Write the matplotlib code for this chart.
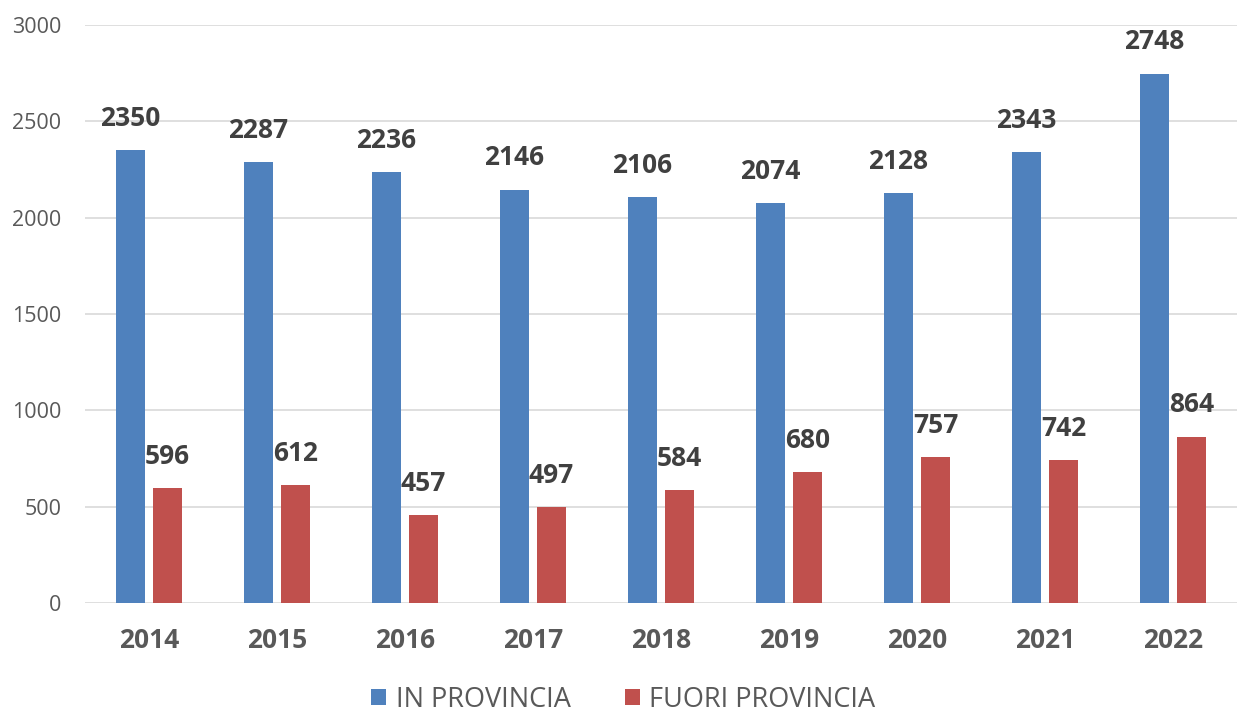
import numpy as np
import matplotlib.pyplot as plt

# dati
anni = ["2014", "2015", "2016", "2017", "2018", "2019", "2020", "2021", "2022"]
in_provincia = [2350, 2287, 2236, 2146, 2106, 2074, 2128, 2343, 2748]
fuori_provincia = [596, 612, 457, 497, 584, 680, 757, 742, 864]

plt.rcParams['font.family'] = ['Open Sans', 'DejaVu Sans']

fig = plt.figure(figsize=(12.39, 7.18), dpi=100)
ax = fig.add_axes([85 / 1239, 1 - 603 / 718, 1152 / 1239, 578 / 718])

x = np.arange(len(anni))
w = 0.22
b1 = ax.bar(x - 0.145, in_provincia, w, color="#4F81BD", label="IN PROVINCIA", zorder=3)
b2 = ax.bar(x + 0.145, fuori_provincia, w, color="#C0504D", label="FUORI PROVINCIA", zorder=3)

for bars in (b1, b2):
    ax.bar_label(bars, padding=13, fontsize=19, fontweight="bold", color="#404040")

ax.set_xlim(-0.5, len(anni) - 0.5)
ax.set_ylim(0, 3000)
ax.set_yticks(range(0, 3001, 500))
ax.set_xticks(x)
ax.set_xticklabels(anni, fontsize=19, fontweight="bold", color="#595959")
ax.tick_params(axis="y", labelsize=15.5, labelcolor="#595959", length=0, pad=17)
ax.tick_params(axis="x", length=0, pad=17)
ax.grid(axis="y", color="#d9d9d9", linewidth=1.2, zorder=0)
for s in ax.spines.values():
    s.set_visible(False)

fig.legend(handles=[b1, b2], loc="lower center", bbox_to_anchor=(0.503, 0.006), ncol=2,
           frameon=False, fontsize=19.5, labelcolor="#595959", handlelength=0.55,
           handleheight=0.55, handletextpad=0.35, columnspacing=2.0, borderaxespad=0,
           borderpad=0)

fig.savefig("out.png", dpi=100)
